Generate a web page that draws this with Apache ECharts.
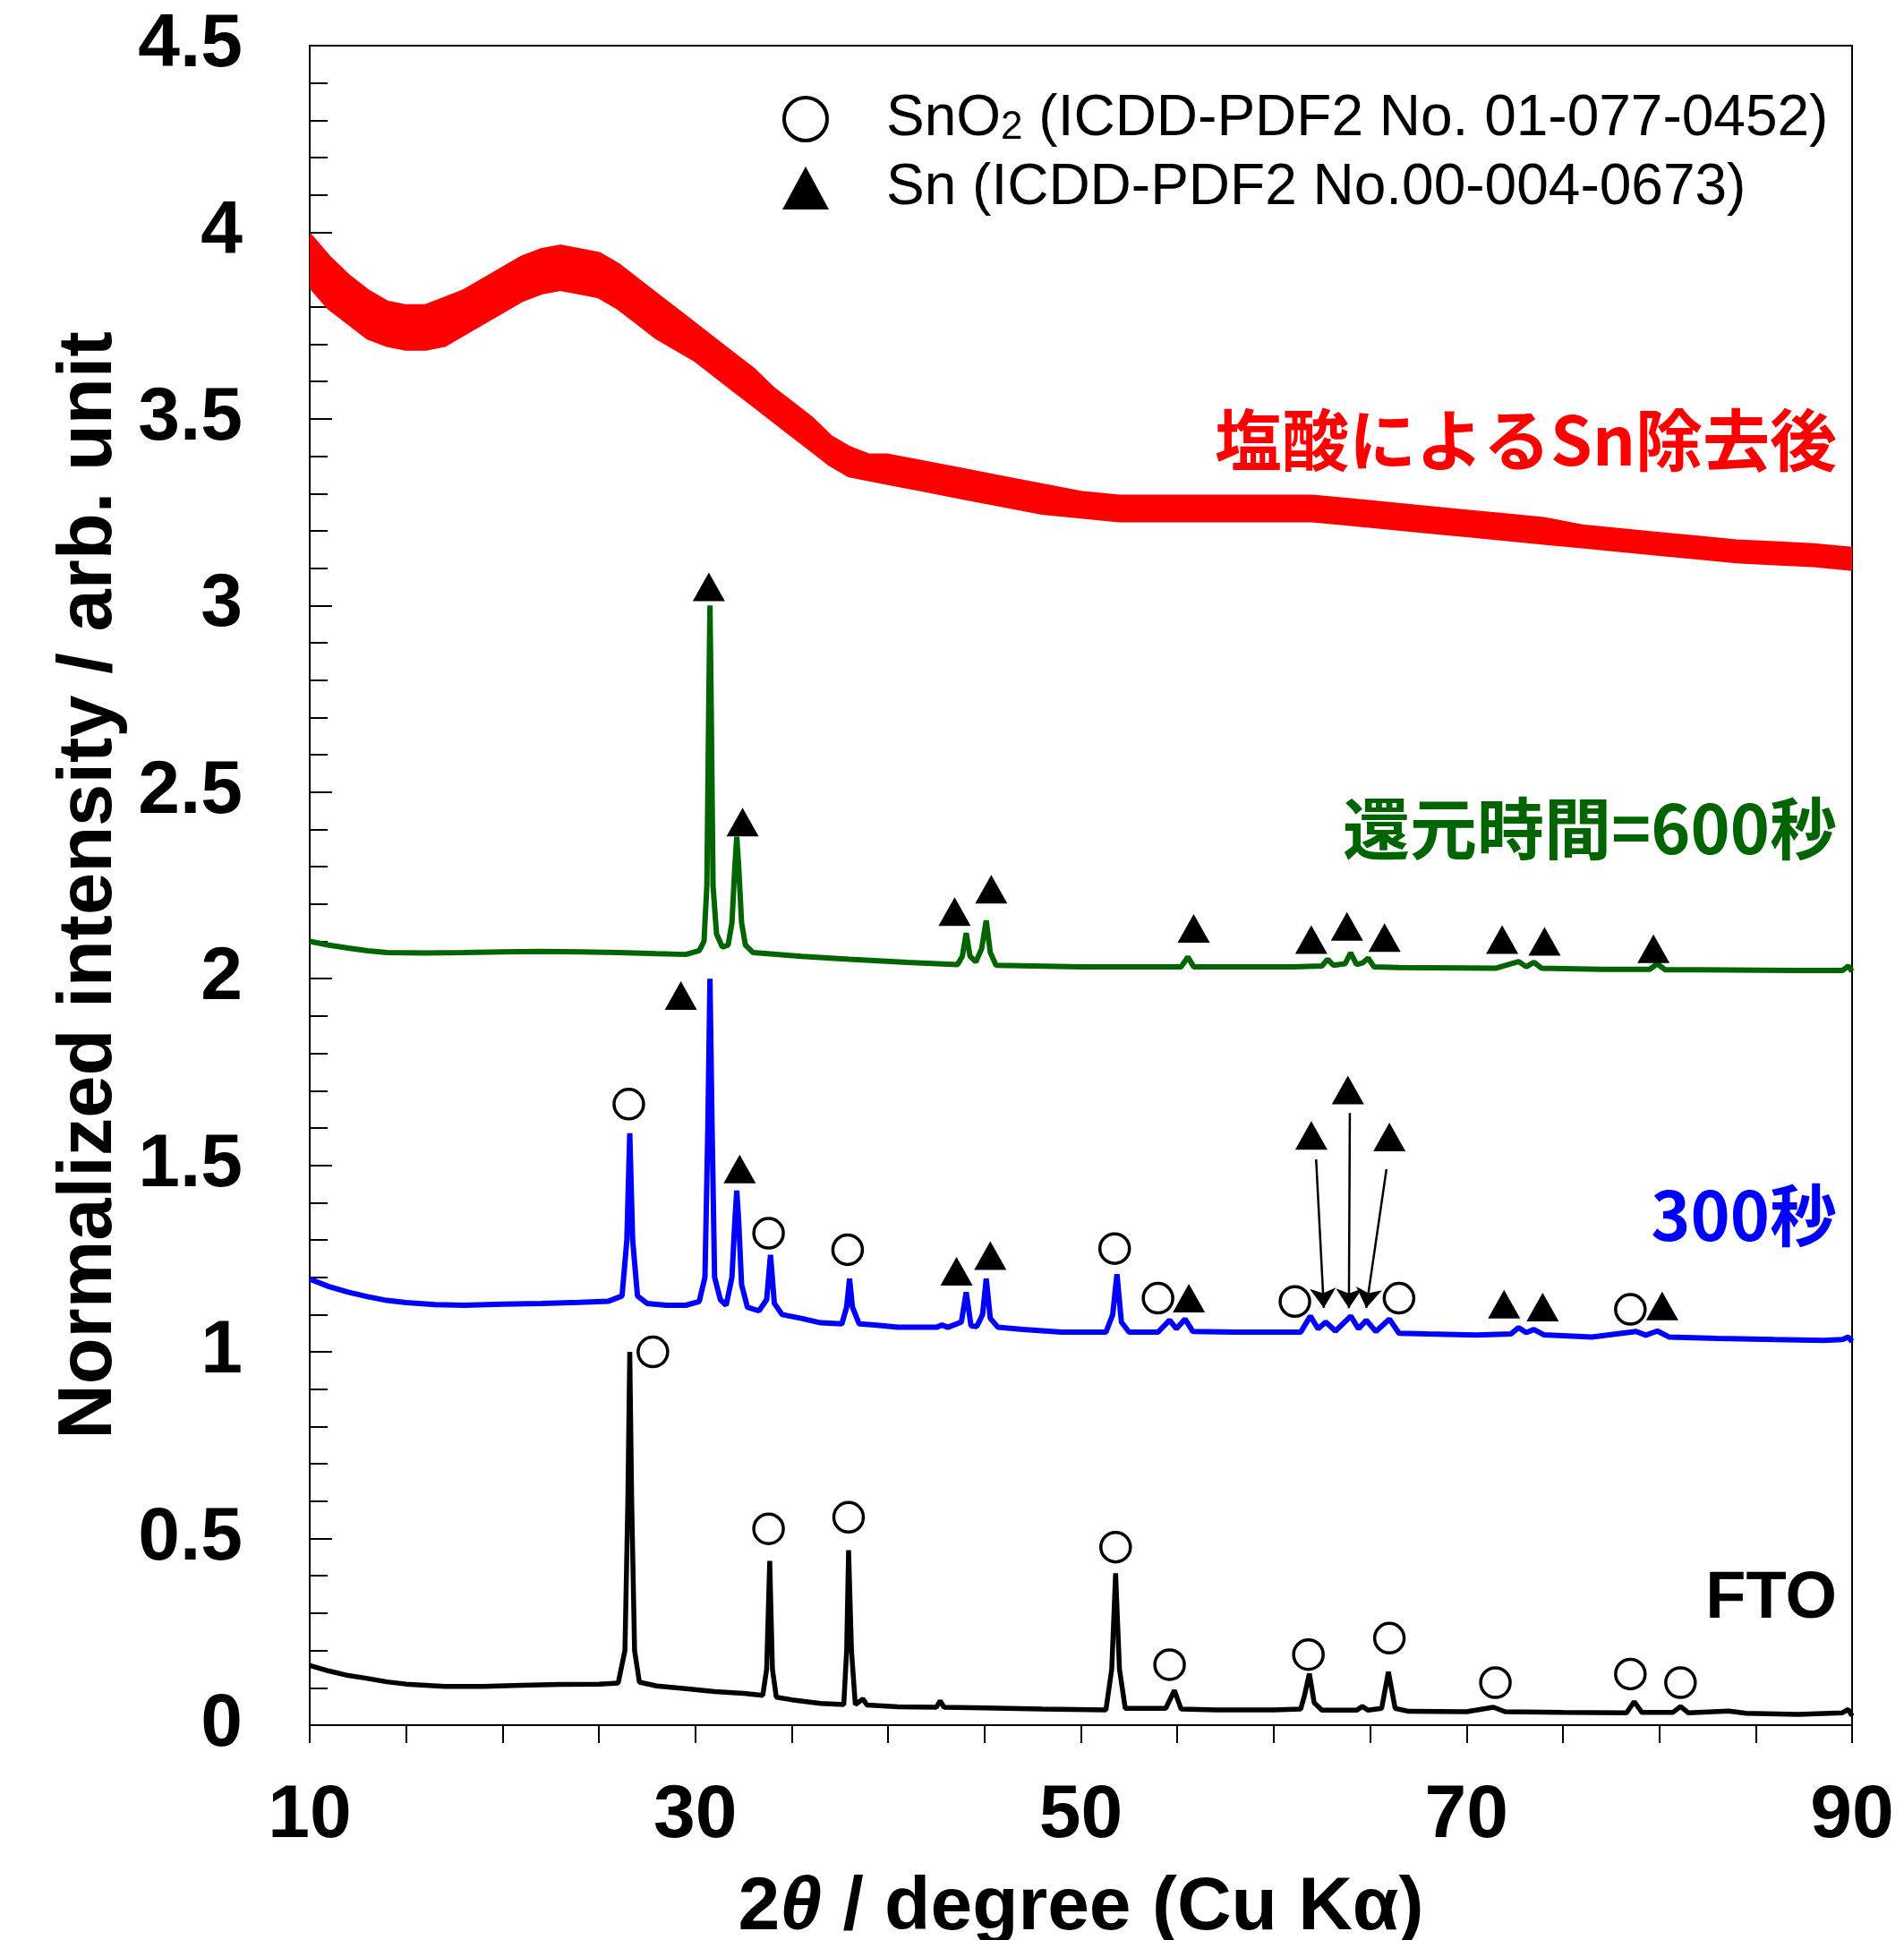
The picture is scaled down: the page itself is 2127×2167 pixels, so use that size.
<!DOCTYPE html>
<html>
<head>
<meta charset="utf-8">
<title>XRD patterns</title>
<script src="https://cdn.jsdelivr.net/npm/echarts@6/dist/echarts.min.js"></script>
<style>
  html, body { margin: 0; padding: 0; background: #fff; }
  #chart { width: 2127px; height: 2167px; }
</style>
</head>
<body>
<div id="chart"></div>
<script>
// ---- data (2theta in degree, normalized intensity) ----

// red band (after Sn removal by HCl): lower / upper edge of the noisy trace
const redTheta = [10, 11, 12, 13, 14, 15, 16, 17, 18, 19, 20, 21, 22, 23, 24, 25, 26, 27, 28, 29, 30,
  31, 32, 33, 34, 35, 36, 37, 38, 39, 40, 42, 44, 46, 48, 50, 52, 54, 56, 58, 60, 62, 64, 66, 68,
  70, 72, 74, 76, 78, 80, 82, 84, 86, 88, 90];
const redLow = [3.86, 3.80, 3.76, 3.72, 3.70, 3.69, 3.69, 3.70, 3.73, 3.76, 3.79, 3.82, 3.84, 3.85, 3.84,
  3.83, 3.80, 3.76, 3.72, 3.69, 3.66, 3.62, 3.58, 3.54, 3.50, 3.46, 3.42, 3.38, 3.35, 3.34, 3.33,
  3.31, 3.29, 3.27, 3.25, 3.24, 3.23, 3.23, 3.23, 3.23, 3.23, 3.23, 3.22, 3.21, 3.20, 3.19, 3.18,
  3.17, 3.16, 3.15, 3.14, 3.13, 3.12, 3.115, 3.11, 3.10];
const redHigh = [3.99, 3.93, 3.88, 3.84, 3.81, 3.80, 3.80, 3.82, 3.84, 3.87, 3.90, 3.93, 3.95, 3.96, 3.95,
  3.94, 3.91, 3.87, 3.83, 3.79, 3.75, 3.71, 3.67, 3.63, 3.58, 3.54, 3.50, 3.45, 3.42, 3.40, 3.40,
  3.38, 3.36, 3.34, 3.32, 3.30, 3.29, 3.29, 3.29, 3.29, 3.29, 3.29, 3.28, 3.27, 3.26, 3.25, 3.24,
  3.23, 3.21, 3.20, 3.19, 3.18, 3.17, 3.165, 3.16, 3.15];

// green: reduction time 600 s
const green600 = [
  [10, 2.10], [11, 2.09], [12, 2.082], [13, 2.075], [14, 2.07], [16, 2.069], [18, 2.07], [20, 2.072],
  [22, 2.073], [24, 2.072], [26, 2.07], [28, 2.067], [29.5, 2.065], [30.2, 2.075], [30.45, 2.10],
  [30.6, 2.25], [30.7, 2.75], [30.76, 3.00], [30.82, 2.75], [30.92, 2.25], [31.1, 2.12], [31.4, 2.085],
  [31.7, 2.09], [31.9, 2.15], [32.05, 2.30], [32.15, 2.38], [32.25, 2.30], [32.4, 2.15], [32.6, 2.09],
  [33, 2.07], [35.5, 2.06], [38, 2.052], [41, 2.044], [43.6, 2.038], [43.85, 2.06], [44.05, 2.122],
  [44.25, 2.06], [44.55, 2.045], [44.85, 2.08], [45.09, 2.156], [45.3, 2.07], [45.6, 2.036],
  [50, 2.032], [55.2, 2.032], [55.55, 2.058], [55.85, 2.032], [61, 2.032], [62.5, 2.034],
  [62.8, 2.052], [63.1, 2.036], [63.7, 2.04], [63.99, 2.069], [64.3, 2.038], [64.6, 2.042],
  [64.9, 2.055], [65.2, 2.032], [66.5, 2.03], [71.5, 2.028], [72.7, 2.046], [73.1, 2.032],
  [73.5, 2.044], [73.9, 2.028], [77, 2.025], [79.5, 2.025], [79.9, 2.04], [80.3, 2.024],
  [82, 2.024], [87, 2.022], [89.5, 2.022], [89.8, 2.034], [90, 2.02]
];

// blue: 300 s
const blue300 = [
  [10, 1.195], [11, 1.175], [12, 1.16], [13, 1.148], [14, 1.138], [15, 1.132], [16.5, 1.127],
  [18, 1.125], [20, 1.128], [22, 1.13], [24, 1.133], [25.5, 1.136], [26.2, 1.15], [26.45, 1.30],
  [26.6, 1.586], [26.75, 1.30], [27, 1.15], [27.5, 1.13], [28.5, 1.125], [29.5, 1.125],
  [30.2, 1.135], [30.5, 1.20], [30.65, 1.60], [30.76, 2.00], [30.87, 1.60], [31, 1.20],
  [31.3, 1.14], [31.6, 1.125], [31.9, 1.20], [32.05, 1.35], [32.15, 1.432], [32.25, 1.35],
  [32.4, 1.18], [32.7, 1.12], [33.3, 1.11], [33.7, 1.14], [33.9, 1.26], [34.1, 1.13],
  [34.5, 1.10], [35.5, 1.09], [36.5, 1.078], [37.6, 1.075], [37.85, 1.12], [38, 1.196],
  [38.15, 1.12], [38.5, 1.075], [39.3, 1.072], [40.5, 1.066], [42.5, 1.066], [42.8, 1.072],
  [43.1, 1.066], [43.8, 1.08], [44.05, 1.16], [44.3, 1.07], [44.6, 1.068], [44.9, 1.10],
  [45.09, 1.196], [45.3, 1.09], [45.7, 1.066], [47, 1.06], [49, 1.053], [51.3, 1.053],
  [51.65, 1.10], [51.87, 1.208], [52.1, 1.08], [52.5, 1.053], [54, 1.053], [54.6, 1.085],
  [54.95, 1.062], [55.4, 1.088], [55.8, 1.055], [58, 1.053], [61.4, 1.053], [61.9, 1.096],
  [62.3, 1.062], [62.7, 1.08], [63.2, 1.056], [64, 1.096], [64.4, 1.062], [64.8, 1.085],
  [65.3, 1.055], [66, 1.088], [66.5, 1.05], [68, 1.048], [70.5, 1.045], [72.3, 1.048],
  [72.7, 1.065], [73.1, 1.052], [73.5, 1.06], [74, 1.046], [76.5, 1.04], [78.8, 1.055],
  [79.3, 1.045], [79.9, 1.056], [80.5, 1.04], [83, 1.036], [86, 1.033], [88.5, 1.031],
  [89.5, 1.033], [89.8, 1.04], [90, 1.028]
];

// black: FTO substrate
const fto = [
  [10, 0.16], [11, 0.145], [12, 0.133], [13, 0.125], [14, 0.116], [15, 0.11], [17, 0.104],
  [19, 0.104], [21, 0.107], [23, 0.109], [25, 0.11], [26, 0.113], [26.35, 0.20], [26.5, 0.60],
  [26.6, 1.00], [26.7, 0.60], [26.85, 0.20], [27.1, 0.115], [28, 0.105], [29.5, 0.098],
  [31, 0.09], [32.5, 0.085], [33.5, 0.08], [33.7, 0.15], [33.86, 0.44], [34, 0.15], [34.2, 0.075],
  [35, 0.068], [36.5, 0.058], [37.7, 0.055], [37.85, 0.20], [37.95, 0.469], [38.1, 0.20],
  [38.3, 0.055], [38.7, 0.07], [38.9, 0.054], [40.5, 0.049], [42.5, 0.048], [42.7, 0.065],
  [42.9, 0.048], [45, 0.046], [48, 0.043], [51.3, 0.041], [51.6, 0.15], [51.8, 0.407],
  [52, 0.15], [52.3, 0.045], [54.4, 0.045], [54.85, 0.093], [55.2, 0.043], [57, 0.041],
  [60, 0.041], [61.4, 0.043], [61.6, 0.08], [61.85, 0.138], [62.1, 0.06], [62.5, 0.04],
  [64.3, 0.04], [64.6, 0.05], [64.9, 0.04], [65.6, 0.045], [65.95, 0.143], [66.3, 0.045],
  [67, 0.037], [70, 0.036], [71.4, 0.048], [72, 0.036], [75, 0.034], [78.3, 0.033],
  [78.7, 0.063], [79.1, 0.034], [80.7, 0.034], [81.1, 0.05], [81.5, 0.033], [83.6, 0.038],
  [84.5, 0.032], [87.2, 0.029], [89.5, 0.033], [89.8, 0.042], [90, 0.025]
];

// peak markers: open circle = SnO2, filled triangle = Sn
const sno2Marks = [
  [27.8, 1.0], [33.8, 0.526], [37.95, 0.557], [51.8, 0.477], [54.6, 0.162], [61.8, 0.189],
  [66.0, 0.233], [71.5, 0.114], [78.5, 0.137], [81.1, 0.114],
  [26.55, 1.664], [33.8, 1.318], [37.9, 1.274], [51.75, 1.277], [54.0, 1.144], [61.1, 1.135],
  [66.5, 1.144], [78.5, 1.114]
];
const snMarks = [
  [30.7, 3.05], [32.45, 2.42], [43.45, 2.18], [45.35, 2.24], [55.85, 2.135], [61.95, 2.105],
  [63.8, 2.14], [65.75, 2.11], [71.85, 2.105], [74.05, 2.10], [79.7, 2.08],
  [29.25, 1.955], [32.3, 1.49], [43.55, 1.216], [45.3, 1.258], [55.6, 1.144], [61.95, 1.58],
  [63.85, 1.702], [66.0, 1.576], [71.95, 1.128], [73.95, 1.12], [80.15, 1.123]
];

// arrows to the small Sn peaks of the 300 s pattern
const arrowFrom = [[62.2, 1.516], [63.95, 1.64], [65.85, 1.49]];
const arrowTo = [[62.6, 1.118], [63.9, 1.117], [64.8, 1.118]];

// axis ticks
const xLabelVals = [10, 30, 50, 70, 90];

const LATIN = '"Liberation Sans", Arial, sans-serif';
const CJK = '"Noto Sans CJK JP", sans-serif';

const chart = echarts.init(document.getElementById('chart'));

// red trace drawn as a filled band between its lower and upper edge
function renderRedBand(params, api) {
  const upper = redTheta.map((t, i) => api.coord([t, redHigh[i]]));
  const lower = redTheta.map((t, i) => api.coord([t, redLow[i]])).reverse();
  return {
    type: 'polygon',
    shape: { points: upper.concat(lower) },
    style: { fill: '#ff0000', stroke: '#ff0000', lineWidth: 6, lineJoin: 'round' }
  };
}

const option = {
  animation: false,
  backgroundColor: '#fff',
  grid: {
    left: 346, right: 58, top: 51, bottom: 240,
    outerBoundsMode: 'none', containLabel: false,
    show: true, borderColor: '#000', borderWidth: 2
  },
  xAxis: {
    type: 'value', min: 10, max: 90, interval: 5,
    axisLine: { lineStyle: { color: '#000', width: 2 } },
    axisTick: { inside: false, length: 20, lineStyle: { color: '#000', width: 2 } },
    axisLabel: {
      margin: 60, color: '#000', fontSize: 84, fontWeight: 'bold', fontFamily: LATIN,
      formatter: v => (xLabelVals.indexOf(v) >= 0 ? String(v) : '')
    },
    splitLine: { show: false },
    name: '{n|2}{i|θ}{n| / degree (Cu Kα)}',
    nameLocation: 'middle',
    nameGap: 163,
    nameTextStyle: {
      rich: {
        n: { fontSize: 84, fontWeight: 'bold', fontFamily: LATIN, color: '#000' },
        i: { fontSize: 84, fontWeight: 'bold', fontStyle: 'italic', fontFamily: LATIN, color: '#000' }
      }
    }
  },
  yAxis: {
    type: 'value', min: 0, max: 4.5, interval: 0.5,
    axisLine: { show: true, lineStyle: { color: '#000', width: 2 } },
    axisTick: { show: true, inside: true, length: 25, lineStyle: { color: '#000', width: 2 } },
    minorTick: { show: true, splitNumber: 5, length: 20, lineStyle: { color: '#000', width: 2 } },
    axisLabel: { margin: 75, color: '#000', fontSize: 84, fontWeight: 'bold', fontFamily: LATIN },
    splitLine: { show: false },
    name: 'Normalized intensity / arb. unit',
    nameLocation: 'middle',
    nameGap: 200,
    nameTextStyle: { fontSize: 85, fontWeight: 'bold', fontFamily: LATIN, color: '#000' }
  },
  legend: {
    orient: 'vertical', left: 869, top: 96,
    itemWidth: 52, itemHeight: 48, itemGap: 13,
    selectedMode: false,
    data: [
      { name: 'SnO2', icon: 'circle',
        itemStyle: { color: 'rgba(0,0,0,0)', borderColor: '#000', borderWidth: 4 } },
      { name: 'Sn', icon: 'triangle', itemStyle: { color: '#000', borderWidth: 0 } }
    ],
    formatter: name => name === 'SnO2'
      ? '{t|SnO}{s|2}{t| (ICDD-PDF2 No. 01-077-0452)}'
      : '{t|Sn (ICDD-PDF2 No.00-004-0673)}',
    textStyle: {
      padding: [0, 0, 0, 59],
      rich: {
        t: { fontSize: 64, fontFamily: LATIN, color: '#000', lineHeight: 64 },
        s: { fontSize: 44, fontFamily: LATIN, color: '#000', lineHeight: 4, verticalAlign: 'bottom' }
      }
    }
  },
  series: [
    {
      name: 'redBand', type: 'custom', silent: true, clip: true,
      data: [0], renderItem: renderRedBand, z: 2
    },
    {
      name: '600s', type: 'line', symbol: 'none', silent: true, data: green600,
      lineStyle: { color: '#006400', width: 6 }, z: 3
    },
    {
      name: '300s', type: 'line', symbol: 'none', silent: true, data: blue300,
      lineStyle: { color: '#0000ff', width: 6 }, z: 3
    },
    {
      name: 'FTO', type: 'line', symbol: 'none', silent: true, data: fto,
      lineStyle: { color: '#000', width: 5.5 }, z: 3
    },
    {
      name: 'SnO2', type: 'scatter', symbol: 'circle', symbolSize: 33, data: sno2Marks,
      itemStyle: { color: 'rgba(0,0,0,0)', borderColor: '#000', borderWidth: 3.5, opacity: 1 }, z: 5
    },
    {
      name: 'Sn', type: 'scatter', symbol: 'triangle', symbolSize: [36, 32], data: snMarks,
      itemStyle: { color: '#000', opacity: 1 }, z: 5
    },
    {
      name: 'arrows', type: 'lines', coordinateSystem: 'cartesian2d', silent: true,
      symbol: ['none', 'arrow'], symbolSize: 22,
      lineStyle: { color: '#000', width: 2.5, opacity: 1, curveness: 0 },
      data: arrowFrom.map((p, i) => ({ coords: [p, arrowTo[i]] })), z: 4
    }
  ],
  graphic: [
    { type: 'text', x: 2052, y: 491,
      style: { text: '塩酸によるSn除去後', fill: '#ff0000', fontSize: 75, fontWeight: 'bold',
               fontFamily: CJK, align: 'right', verticalAlign: 'middle' } },
    { type: 'text', x: 2052, y: 925,
      style: { text: '還元時間=600秒', fill: '#006400', fontSize: 75, fontWeight: 'bold',
               fontFamily: CJK, align: 'right', verticalAlign: 'middle' } },
    { type: 'text', x: 2052, y: 1357,
      style: { text: '300秒', fill: '#0000ff', fontSize: 75, fontWeight: 'bold',
               fontFamily: CJK, align: 'right', verticalAlign: 'middle' } },
    { type: 'text', x: 2052, y: 1787,
      style: { text: 'FTO', fill: '#000', fontSize: 74, fontWeight: 'bold',
               fontFamily: LATIN, align: 'right', verticalAlign: 'middle' } }
  ]
};

chart.setOption(option);
</script>
</body>
</html>
